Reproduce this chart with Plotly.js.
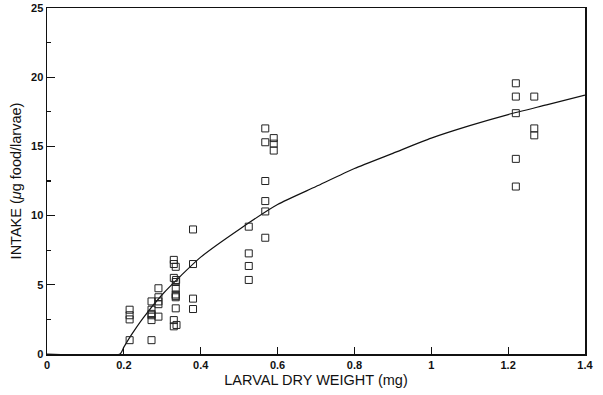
<!DOCTYPE html>
<html>
<head>
<meta charset="utf-8">
<script src="https://cdn.plot.ly/plotly-3.0.1.min.js"></script>
<style>html,body{margin:0;padding:0;background:#fff;}#chart{width:603px;height:395px;}</style>
</head>
<body>
<div id="chart"></div>
<script>
// Observed points: larval dry weight (mg) and intake (µg food/larvae)
const weightX = [
  0.215, 0.215, 0.215, 0.215,
  0.272, 0.272, 0.272, 0.272, 0.272, 0.272,
  0.29, 0.29, 0.29, 0.29, 0.29,
  0.33, 0.33, 0.335, 0.33, 0.336, 0.335, 0.335, 0.335, 0.335, 0.335, 0.335, 0.33, 0.337, 0.33,
  0.38, 0.38, 0.38, 0.38,
  0.525, 0.525, 0.525, 0.525,
  0.568, 0.568, 0.568, 0.568, 0.568, 0.568,
  0.59, 0.59, 0.59,
  1.22, 1.22, 1.22, 1.22, 1.22,
  1.268, 1.268, 1.268
];
const intakeY = [
  3.2, 2.8, 2.5, 1.0,
  3.8, 3.2, 2.8, 2.45, 2.9, 1.0,
  4.75, 4.1, 3.8, 2.7, 3.6,
  6.8, 6.5, 6.3, 5.5, 5.35, 5.2, 4.75, 4.3, 4.1, 4.2, 3.3, 2.45, 2.1, 2.0,
  9.0, 6.5, 4.0, 3.25,
  9.2, 7.27, 6.36, 5.35,
  16.3, 15.3, 12.5, 11.05, 10.3, 8.4,
  15.6, 15.2, 14.7,
  19.56, 18.6, 17.4, 14.1, 12.1,
  18.6, 16.3, 15.8
];
// Fitted curve
const curveX = [0, 0.19, 0.2, 0.22, 0.25, 0.3, 0.35, 0.4, 0.5, 0.6, 0.7, 0.8, 0.9, 1.0, 1.1, 1.2, 1.3, 1.4];
const curveY = [0, 0, 0.5, 1.4, 2.6, 4.3, 5.7, 7.0, 9.0, 10.8, 12.1, 13.4, 14.5, 15.6, 16.5, 17.3, 18.0, 18.7];
const xTicks = [0, 0.2, 0.4, 0.6, 0.8, 1, 1.2, 1.4];
const xTickText = ['0', '0.2', '0.4', '0.6', '0.8', '1', '1.2', '1.4'];
const yTicks = [0, 5, 10, 15, 20, 25];

const font = {family: 'Liberation Sans, Arial, sans-serif', color: '#111'};

const traces = [
  {x: curveX, y: curveY, mode: 'lines', type: 'scatter', line: {color: '#111', width: 1.2, shape: 'spline', smoothing: 0.6}, hoverinfo: 'skip', showlegend: false},
  {x: weightX, y: intakeY, mode: 'markers', type: 'scatter', showlegend: false,
   marker: {symbol: 'square-open', size: 7, color: '#222', line: {width: 1, color: '#222'}}}
];

const layout = {
  width: 603, height: 395,
  margin: {l: 47, r: 18, t: 8, b: 41},
  paper_bgcolor: '#fff', plot_bgcolor: '#fff',
  font: Object.assign({size: 11}, font),
  showlegend: false,
  xaxis: {
    range: [0, 1.4], tickvals: xTicks, ticktext: xTickText,
    ticks: 'inside', ticklen: 7, tickwidth: 1.2, tickcolor: '#111',
    showline: true, linecolor: '#111', linewidth: 1.5, mirror: true,
    showgrid: false, zeroline: false,
    tickfont: Object.assign({size: 11, weight: 'bold'}, font),
    title: {text: 'LARVAL DRY WEIGHT (mg)', font: Object.assign({size: 14.5}, font), standoff: 5}
  },
  yaxis: {
    range: [0, 25], tickvals: yTicks,
    ticks: 'inside', ticklen: 8, tickwidth: 1.2, tickcolor: '#111',
    minor: {dtick: 2.5, ticklen: 4, tickcolor: '#111', ticks: 'inside'},
    showline: true, linecolor: '#111', linewidth: 1.5, mirror: true,
    showgrid: false, zeroline: false,
    tickfont: Object.assign({size: 11, weight: 'bold'}, font),
    title: {text: 'INTAKE (<i>μ</i>g food/larvae)', font: Object.assign({size: 14.5}, font), standoff: 6}
  }
};

Plotly.newPlot('chart', traces, layout, {displayModeBar: false, staticPlot: true});
</script>
</body>
</html>
